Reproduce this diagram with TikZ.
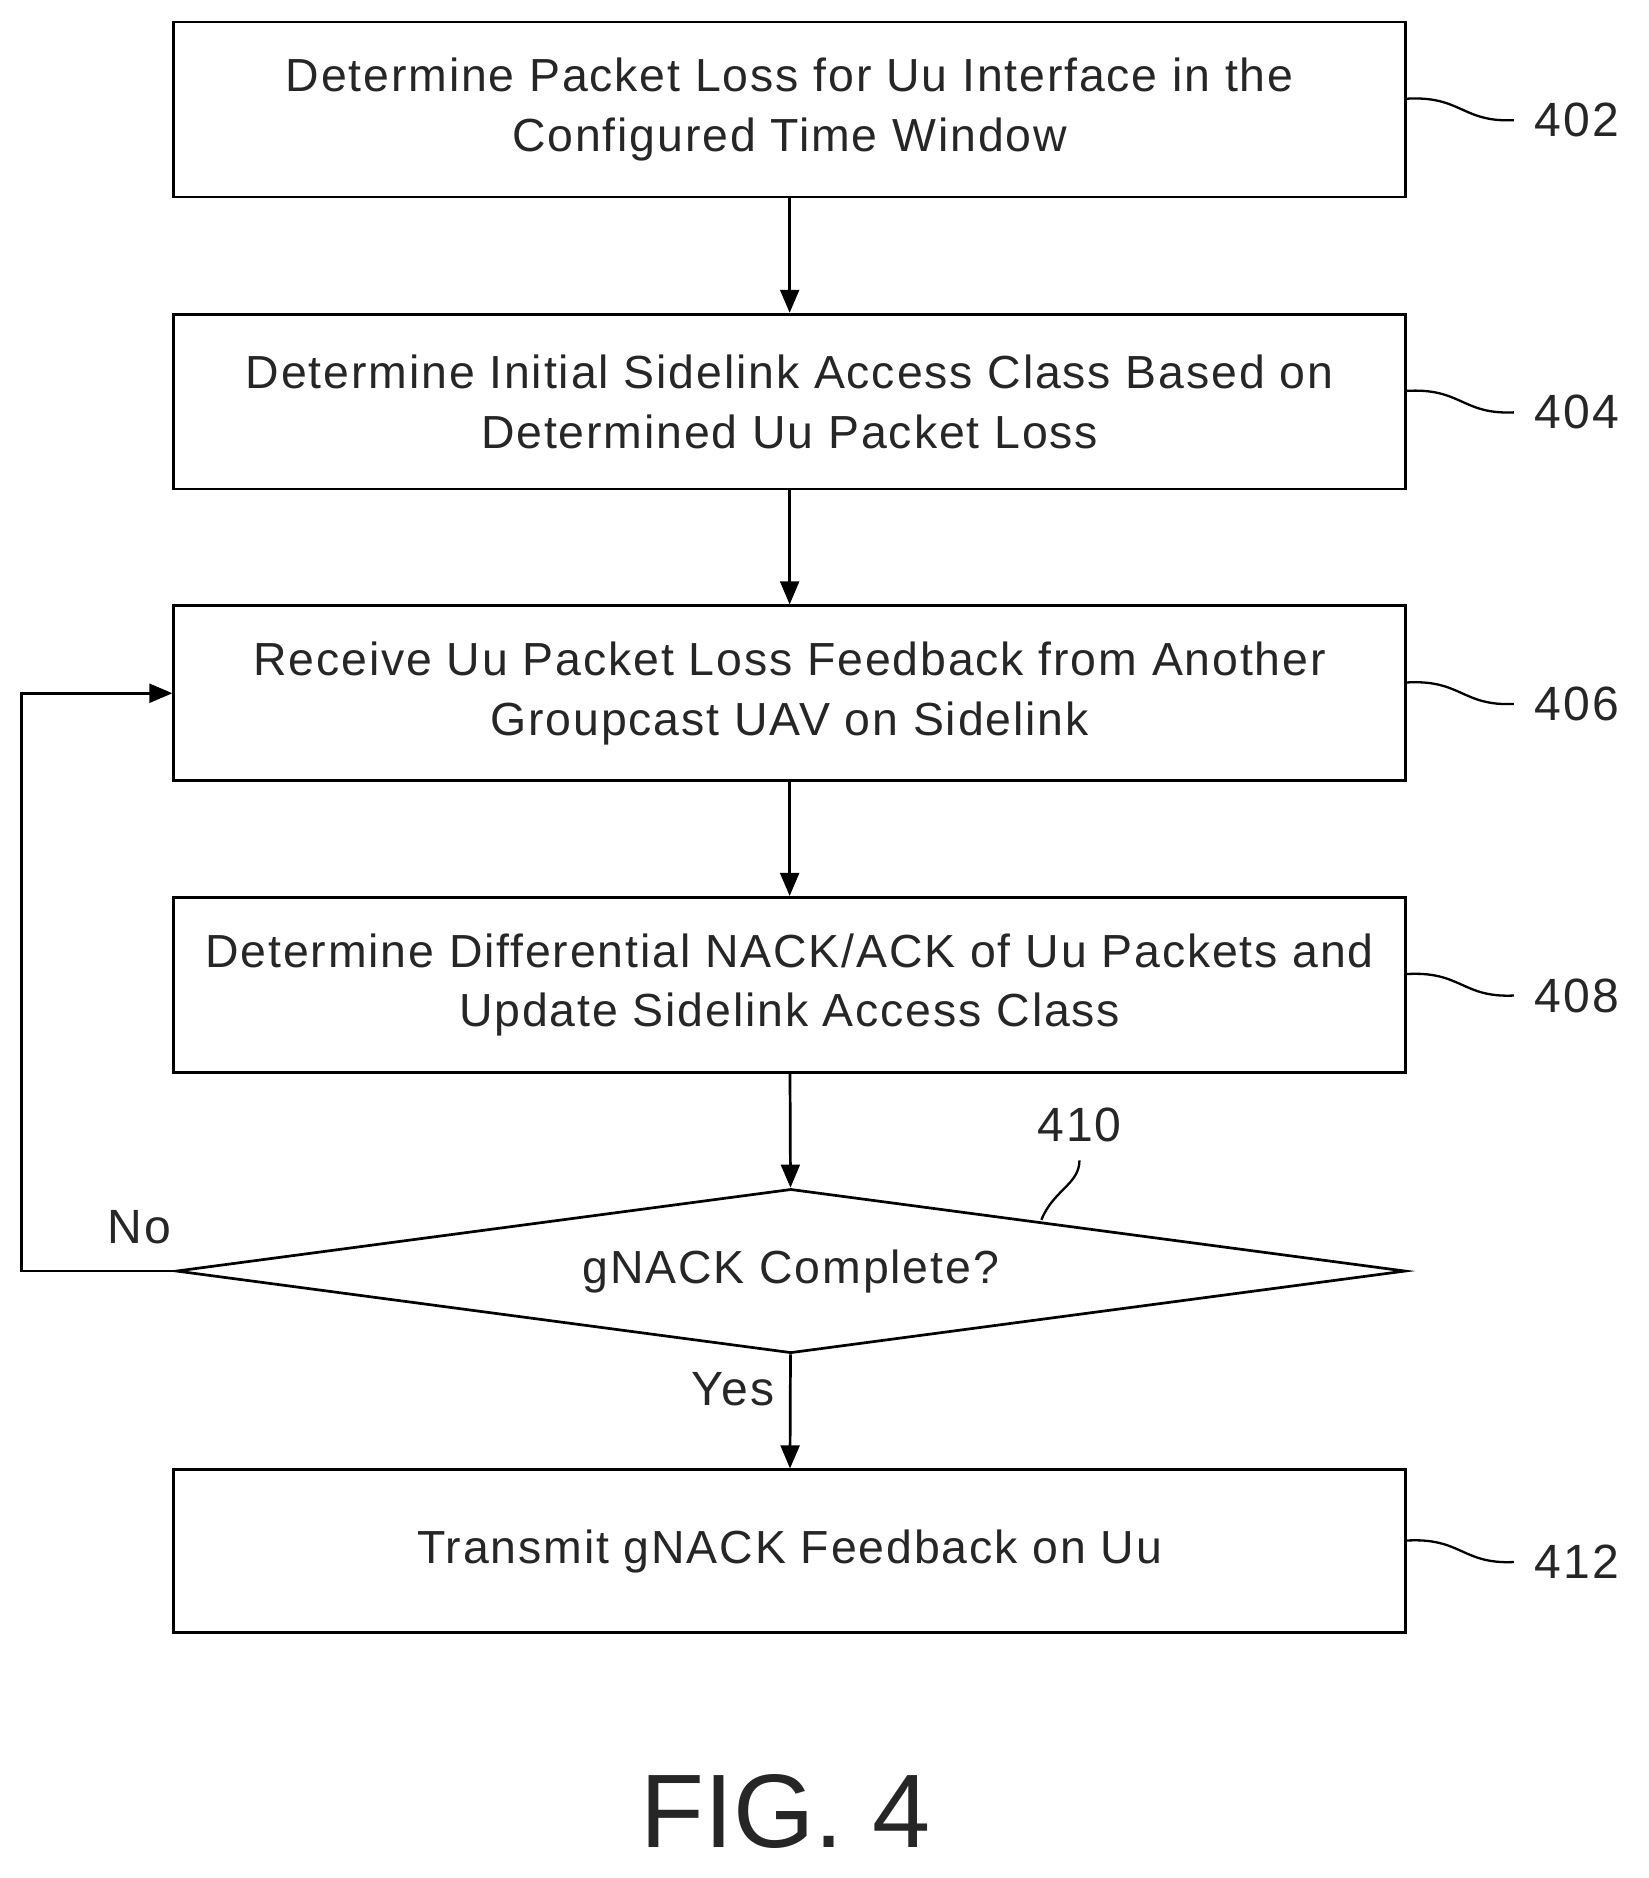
\documentclass[tikz,border=0pt]{standalone}
\usepackage{fontspec}
\setmainfont{Liberation Sans}[LetterSpace=4]
\usetikzlibrary{shapes.geometric,arrows.meta}
\begin{document}
\begin{tikzpicture}[x=0.02cm,y=-0.02cm,
 box/.style={draw,line width=1.3pt,minimum width=1035*0.02cm,minimum height=147*0.02cm,align=center,font=\fontsize{22.2}{28.5}\selectfont,text=black!85},
 lbl/.style={font=\fontsize{23}{26}\selectfont,text=black!85},
 arr/.style={line width=1.3pt,-{Triangle[length=11pt,width=9pt]}},
 sq/.style={line width=1.1pt}]
\useasboundingbox (0,0) rectangle (1385,1578);
\node[box] (b402) at (663.5,92) {Determine Packet Loss for Uu Interface in the\\Configured Time Window};
\node[box] (b404) at (663.5,337.5) {Determine Initial Sidelink Access Class Based on\\Determined Uu Packet Loss};
\node[box] (b406) at (663.5,582.5) {Receive Uu Packet Loss Feedback from Another\\Groupcast UAV on Sidelink};
\node[box] (b408) at (663.5,827.5) {Determine Differential NACK/ACK of Uu Packets and\\Update Sidelink Access Class};
\node[diamond,draw,line width=1.3pt,aspect=7.5,minimum width=1033*0.02cm,minimum height=138*0.02cm,inner sep=0pt,font=\fontsize{22.2}{26}\selectfont,text=black!85] (d410) at (664.5,1068) {gNACK Complete?};
\node[box,minimum height=137*0.02cm] (b412) at (663.5,1303.5) {Transmit gNACK Feedback on Uu};
\draw[arr] (b402) -- (b404);
\draw[arr] (b404) -- (b406);
\draw[arr] (b406) -- (b408);
\draw[arr] (b408) -- (d410);
\draw[arr] (d410) -- (b412);
\coordinate (c1) at (18,1068);
\coordinate (c2) at (18,582.5);
\draw[arr] (d410.west) -- (c1) -- (c2) -- (b406.west);
\node[lbl] (no) at (117,1031) {No};
\node[lbl] (yes) at (616,1167) {Yes};
\foreach \n/\y in {402/92,404/337.5,406/582.5,408/827.5,412/1303.5}{
 \node[lbl] (l\n) at (1325,\y+9) {\n};
 \draw[sq] (1181,\y-9) .. controls (1228,\y-12) and (1228,\y+11) .. (1272,\y+9);
}
\node[lbl] (l410) at (907,945) {410};
\draw[sq] (875,1025) .. controls (885,1000) and (907,995) .. (907,975);
\node[font=\fontsize{50}{54}\selectfont\addfontfeature{LetterSpace=0},text=black!85] (fig) at (660,1522) {FIG. 4};
\end{tikzpicture}
\end{document}
